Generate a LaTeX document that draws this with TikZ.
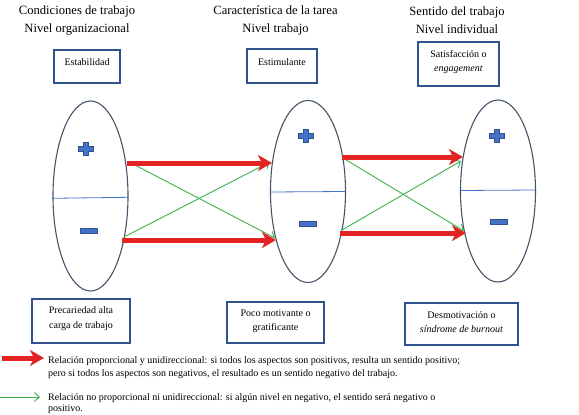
\documentclass[tikz,border=0pt]{standalone}
\usepackage{fontspec}
\setmainfont{Liberation Serif}
\usetikzlibrary{arrows.meta,shapes.geometric}
\definecolor{boxblue}{HTML}{2F528F}
\definecolor{ellgray}{HTML}{44546A}
\definecolor{signblue}{HTML}{4472C4}
\definecolor{arrred}{HTML}{E32322}
\definecolor{arrgreen}{HTML}{3CB04A}
\begin{document}
\begin{tikzpicture}[x=1pt,y=-1pt,
 title/.style={align=center,font=\fontsize{12.6}{18}\selectfont,inner sep=0pt},
 box/.style={draw=boxblue,line width=1.1pt,inner sep=0pt},
 btext/.style={align=center,font=\fontsize{10}{14.5}\selectfont,inner sep=0pt},
 ell/.style={ellipse,draw=ellgray,line width=1.1pt,inner sep=0pt,minimum width=75pt},
 redarr/.style={draw=arrred,line width=5pt,-{Stealth[length=14pt,width=16pt,inset=4pt]}},
 greenarr/.style={draw=arrgreen,line width=0.9pt,-{Straight Barb[length=5pt,width=9pt]}},
 divline/.style={draw=signblue,line width=0.8pt},
 legtext/.style={anchor=base west,font=\fontsize{10}{12}\selectfont,inner sep=0pt},
 plussign/.pic={\filldraw[fill=signblue,draw=boxblue,line width=0.6pt] (-7.5,-2.5) -- (-2.5,-2.5) -- (-2.5,-6.5) -- (2.5,-6.5) -- (2.5,-2.5) -- (7.5,-2.5) -- (7.5,2.5) -- (2.5,2.5) -- (2.5,6.5) -- (-2.5,6.5) -- (-2.5,2.5) -- (-7.5,2.5) -- cycle;},
 minussign/.pic={\filldraw[fill=signblue,draw=boxblue,line width=0.6pt] (-8.5,-2.5) rectangle (8.5,2.5);}
]
\useasboundingbox (0,0) rectangle (579,415);

% titles
\node[title] (T1) at (77,20) {Condiciones de trabajo\\Nivel organizacional};
\node[title] (T2) at (275.5,20) {Característica de la tarea\\Nivel trabajo};
\node[title] (T3) at (457,20) {Sentido del trabajo\\Nivel individual};

% top boxes
\node[box,minimum width=66pt,minimum height=33pt] (B1) at (87,66.5) {};
\node[btext] (B1t) at (87,62) {Estabilidad};
\node[box,minimum width=70pt,minimum height=34pt] (B2) at (282,66) {};
\node[btext] (B2t) at (282,62) {Estimulante};
\node[box,minimum width=81pt,minimum height=44pt] (B3) at (458.5,64) {};
\node[btext] (B3t) at (458.5,62) {Satisfacción o\\\textit{engagement}};

% ellipses
\node[ell,minimum height=190pt] (E1) at (90.5,196) {};
\node[ell,minimum height=182pt] (E2) at (308,191.5) {};
\node[ell,minimum height=182pt] (E3) at (498,191) {};

\draw[divline] (52.5,198.3) -- (128,197.3);
\draw[divline] (271,192) -- (345,191.5);
\draw[divline] (461,190.5) -- (535,190);

\pic at (86,149) {plussign};
\pic at (89,231) {minussign};
\pic at (306,136) {plussign};
\pic at (308,224) {minussign};
\pic at (497,136) {plussign};
\pic at (499,222) {minussign};

% connector end points
\coordinate (a1s) at (127,163);
\coordinate (a1e) at (272,163);
\coordinate (a2s) at (122,240);
\coordinate (a2e) at (276,240);
\coordinate (b1s) at (342,157);
\coordinate (b1e) at (463,157);
\coordinate (b2s) at (340,233);
\coordinate (b2e) at (466,233);
\coordinate (g1s) at (133,164);
\coordinate (g1e) at (275,238);
\coordinate (g2s) at (124,237);
\coordinate (g2e) at (270,162);
\coordinate (g3s) at (343,158);
\coordinate (g3e) at (464,231);
\coordinate (g4s) at (342,230);
\coordinate (g4e) at (461,161);

\draw[greenarr] (g1s) -- (g1e);
\draw[greenarr] (g2s) -- (g2e);
\draw[greenarr] (g3s) -- (g3e);
\draw[greenarr] (g4s) -- (g4e);
\draw[redarr] (a1s) -- (a1e);
\draw[redarr] (a2s) -- (a2e);
\draw[redarr] (b1s) -- (b1e);
\draw[redarr] (b2s) -- (b2e);

% bottom boxes
\node[box,minimum width=98pt,minimum height=44pt] (B4) at (81,321) {};
\node[btext] (B4t) at (81,318.5) {Precariedad alta\\carga de trabajo};
\node[box,minimum width=97pt,minimum height=41pt] (B5) at (275.5,322.5) {};
\node[btext] (B5t) at (275.5,321.5) {Poco motivante o\\gratificante};
\node[box,minimum width=113pt,minimum height=42pt] (B6) at (461.5,324) {};
\node[btext] (B6t) at (461.5,322) {Desmotivación o\\\textit{síndrome de burnout}};

% legend
\coordinate (lr1) at (2,358);
\coordinate (lr2) at (44,358);
\coordinate (lg1) at (0,397);
\coordinate (lg2) at (40,397);
\draw[redarr] (lr1) -- (lr2);
\draw[greenarr] (lg1) -- (lg2);
\node[legtext] (L1) at (48,363.5) {Relación proporcional y unidireccional: si todos los aspectos son positivos, resulta un sentido positivo;};
\node[legtext] (L2) at (48,376.5) {pero si todos los aspectos son negativos, el resultado es un sentido negativo del trabajo.};
\node[legtext] (L3) at (48,400) {Relación no proporcional ni unidireccional: si algún nivel en negativo, el sentido será negativo o};
\node[legtext] (L4) at (48,411) {positivo.};
\end{tikzpicture}
\end{document}
